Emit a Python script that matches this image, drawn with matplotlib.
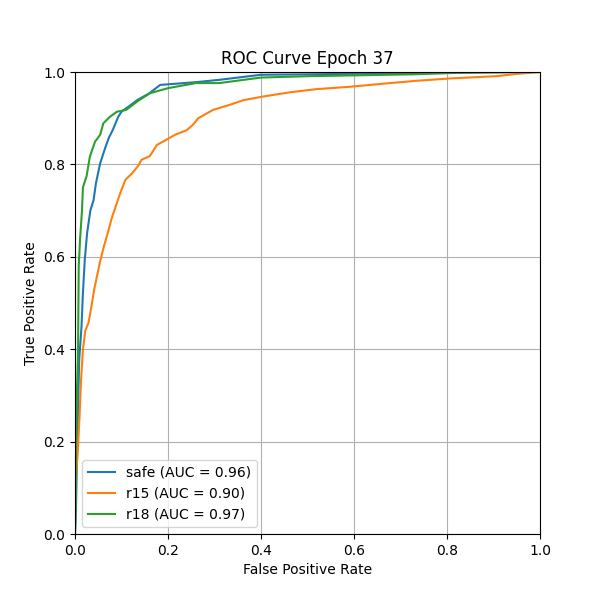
import matplotlib
matplotlib.use('Agg')
import matplotlib.pyplot as plt

# ROC points (fpr, tpr)
safe_fpr = [0.0, 0.002, 0.003, 0.005, 0.009, 0.014, 0.017, 0.021, 0.026, 0.033, 0.040, 0.045,
            0.054, 0.065, 0.073, 0.081, 0.093, 0.100, 0.115, 0.135, 0.160, 0.183, 0.26, 0.31,
            0.40, 0.50, 0.67, 0.80, 0.95, 1.0]
safe_tpr = [0.0, 0.05, 0.10, 0.20, 0.377, 0.449, 0.521, 0.593, 0.651, 0.700, 0.723, 0.759,
            0.802, 0.836, 0.858, 0.874, 0.903, 0.914, 0.925, 0.940, 0.954, 0.972, 0.978, 0.983,
            0.994, 0.995, 0.997, 0.998, 1.0, 1.0]

r15_fpr = [0.0, 0.0, 0.002, 0.006, 0.010, 0.013, 0.017, 0.022, 0.029, 0.035, 0.041, 0.054,
           0.062, 0.070, 0.080, 0.097, 0.108, 0.123, 0.136, 0.143, 0.161, 0.176, 0.194, 0.215,
           0.240, 0.254, 0.265, 0.297, 0.333, 0.362, 0.405, 0.462, 0.520, 0.591, 0.677, 0.735,
           0.806, 0.907, 0.950, 0.990, 1.0]
r15_tpr = [0.0, 0.045, 0.12, 0.18, 0.26, 0.333, 0.398, 0.44, 0.457, 0.49, 0.528, 0.590,
           0.622, 0.650, 0.687, 0.737, 0.766, 0.781, 0.797, 0.810, 0.818, 0.842, 0.852, 0.864,
           0.874, 0.886, 0.900, 0.918, 0.929, 0.939, 0.947, 0.956, 0.963, 0.968, 0.976, 0.981,
           0.986, 0.991, 0.996, 0.999, 1.0]

r18_fpr = [0.0, 0.001, 0.002, 0.004, 0.0065, 0.008, 0.011, 0.015, 0.017, 0.025, 0.032, 0.043,
           0.054, 0.061, 0.075, 0.090, 0.110, 0.135, 0.161, 0.200, 0.26, 0.31, 0.40, 0.505,
           0.727, 0.85, 1.0]
r18_tpr = [0.0, 0.05, 0.20, 0.30, 0.39, 0.58, 0.64, 0.70, 0.75, 0.775, 0.817, 0.849,
           0.864, 0.889, 0.903, 0.914, 0.918, 0.937, 0.954, 0.965, 0.976, 0.976, 0.988, 0.991,
           0.995, 0.999, 1.0]

labels = ['safe (AUC = 0.96)', 'r15 (AUC = 0.90)', 'r18 (AUC = 0.97)']

fig, ax = plt.subplots(figsize=(6, 6), dpi=100)
ax.plot(safe_fpr, safe_tpr, label=labels[0])
ax.plot(r15_fpr, r15_tpr, label=labels[1])
ax.plot(r18_fpr, r18_tpr, label=labels[2])

ax.set_xlim(0, 1)
ax.set_ylim(0, 1)
ax.set_xlabel('False Positive Rate')
ax.set_ylabel('True Positive Rate')
ax.set_title('ROC Curve Epoch 37')
ax.legend(loc='lower left')
ax.grid(True)

fig.savefig('out.png')
